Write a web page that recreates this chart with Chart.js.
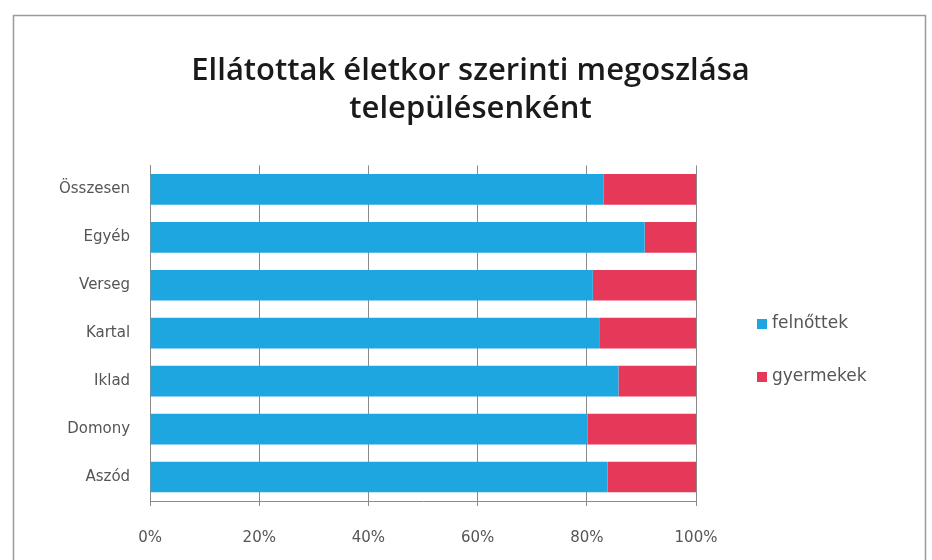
<!DOCTYPE html>
<html>
<head>
<meta charset="utf-8">
<script src="https://cdn.jsdelivr.net/npm/chart.js@4"></script>
<style>
  html, body { margin: 0; padding: 0; background: #fff; }
  #wrap { width: 932px; height: 560px; position: relative; }
</style>
</head>
<body>
<div id="wrap"><canvas id="c" width="932" height="560"></canvas></div>
<script>
const categories = ['Összesen', 'Egyéb', 'Verseg', 'Kartal', 'Iklad', 'Domony', 'Aszód'];
const felnottek = [83.1, 90.6, 81.1, 82.4, 85.8, 80.1, 83.8];
const gyermekek = [16.9, 9.4, 18.9, 17.6, 14.2, 19.9, 16.2];
const xTicks = [0, 20, 40, 60, 80, 100];
const titleLines = ['Ellátottak életkor szerinti megoszlása', 'településenként'];
const seriesColors = ['#1ea6e0', '#e6395a'];

const framePlugin = {
  id: 'frame',
  beforeDraw(chart) {
    const ctx = chart.ctx;
    ctx.save();
    ctx.fillStyle = '#ffffff';
    ctx.fillRect(0, 0, chart.width, chart.height);
    ctx.strokeStyle = '#9a9a9a';
    ctx.lineWidth = 1.5;
    ctx.strokeRect(13.5, 15.5, 912, 600);
    ctx.restore();
  }
};

// legend drawn from the datasets' labels and colours, placed to the right of the plot
const sideLegend = {
  id: 'sideLegend',
  afterDraw(chart) {
    const ctx = chart.ctx;
    const area = chart.chartArea;
    const x0 = area.right + 61;
    const yStart = 324, gap = 53;
    ctx.save();
    ctx.font = '17px "DejaVu Sans"';
    ctx.textBaseline = 'middle';
    ctx.textAlign = 'left';
    chart.data.datasets.forEach((ds, i) => {
      const y = yStart + i * gap;
      ctx.fillStyle = ds.backgroundColor;
      ctx.fillRect(x0, y - 5, 10, 10);
      ctx.fillStyle = '#555';
      ctx.fillText(ds.label, x0 + 15, y);
    });
    ctx.restore();
  }
};

new Chart(document.getElementById('c'), {
  type: 'bar',
  data: {
    labels: categories,
    datasets: [
      { label: 'felnőttek', data: felnottek, backgroundColor: seriesColors[0], borderWidth: 0, barPercentage: 0.64, categoryPercentage: 1 },
      { label: 'gyermekek', data: gyermekek, backgroundColor: seriesColors[1], borderWidth: 0, barPercentage: 0.64, categoryPercentage: 1 }
    ]
  },
  options: {
    indexAxis: 'y',
    responsive: false,
    animation: false,
    layout: { padding: { left: 39, right: 30, top: 12, bottom: 0 } },
    plugins: {
      title: {
        display: true,
        text: titleLines,
        color: '#1a1a1a',
        font: { family: 'Open Sans', size: 31, weight: '600', lineHeight: 1.2 },
        padding: { top: 41, bottom: 38 }
      },
      legend: { display: false },
      tooltip: { enabled: false }
    },
    scales: {
      x: {
        stacked: true,
        min: 0,
        max: 100,
        afterBuildTicks(axis) { axis.ticks = xTicks.map(v => ({ value: v })); },
        afterFit(scale) { scale.height = 59; },
        ticks: {
          callback: v => v + '%',
          color: '#555',
          font: { family: 'DejaVu Sans', size: 15, lineHeight: 1 },
          padding: 25
        },
        grid: { color: '#8a8a8a', lineWidth: 1, drawTicks: true, tickLength: 5 },
        border: { color: '#8a8a8a' }
      },
      y: {
        stacked: true,
        ticks: {
          color: '#555',
          font: { family: 'DejaVu Sans', size: 15 },
          padding: 20
        },
        grid: { display: false, drawTicks: false },
        border: { color: '#8a8a8a' }
      },
      legendSpace: {
        type: 'linear',
        position: 'right',
        display: true,
        ticks: { display: false },
        grid: { display: false, drawTicks: false },
        border: { display: false },
        afterFit(scale) { scale.width = 206; }
      }
    }
  },
  plugins: [framePlugin, sideLegend]
});
</script>
</body>
</html>
